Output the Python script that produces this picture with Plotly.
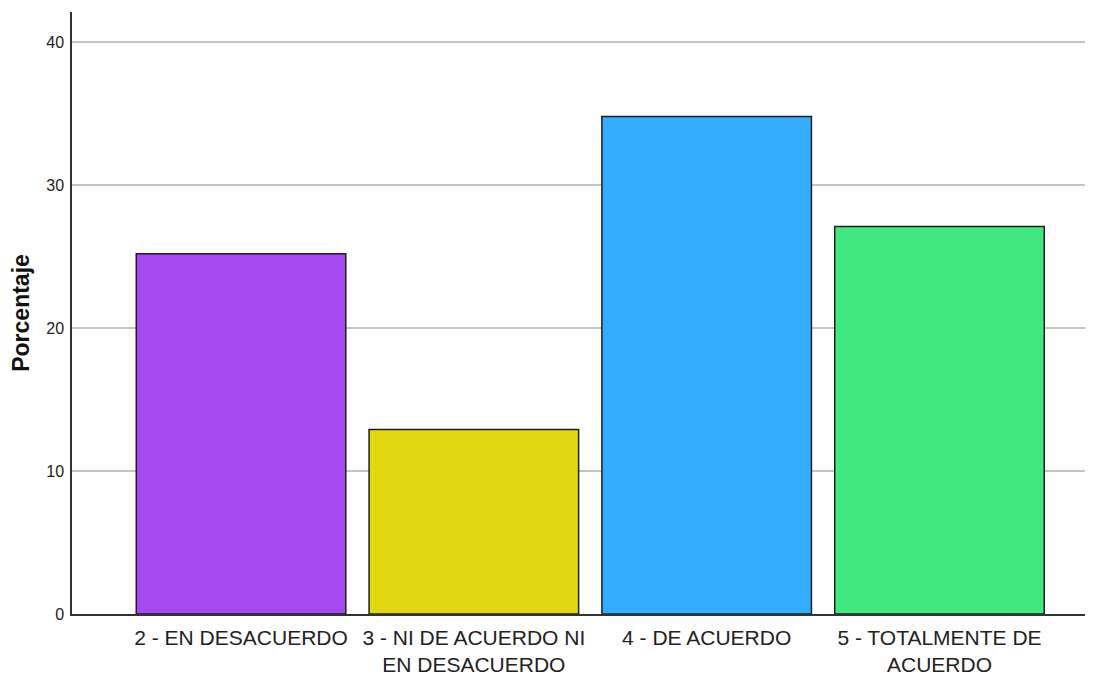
import plotly.graph_objects as go

categories = ["2 - EN DESACUERDO", "3 - NI DE ACUERDO NI<br>EN DESACUERDO", "4 - DE ACUERDO", "5 - TOTALMENTE DE<br>ACUERDO"]
values = [25.2, 12.9, 34.8, 27.1]
colors = ["#A749F2", "#E2D810", "#33ADFF", "#42E97F"]
y_ticks = [0, 10, 20, 30, 40]

fig = go.Figure()
fig.add_trace(go.Bar(
    x=list(range(len(categories))),
    y=values,
    width=0.9,
    marker=dict(color=colors, line=dict(color="#1e1e1e", width=1.5)),
    hoverinfo="y",
))

FONT = "Liberation Sans, Arial, sans-serif"
fig.update_layout(
    width=1097, height=682,
    margin=dict(l=72, r=12, t=12, b=68),
    paper_bgcolor="white", plot_bgcolor="white",
    showlegend=False,
    font=dict(family=FONT, color="#222222"),
    xaxis=dict(
        range=[-0.726, 3.625],
        tickmode="array",
        tickvals=list(range(len(categories))),
        ticktext=categories,
        tickangle=0,
        automargin=False,
        tickfont=dict(size=21, family=FONT, color="#222222"),
        showgrid=False, zeroline=False,
        showline=True, linecolor="#333333", linewidth=1.5,
        ticks="", ticklabelstandoff=4,
    ),
    yaxis=dict(
        range=[0, 42.1],
        automargin=False,
        tickmode="array", tickvals=y_ticks, ticktext=[str(t) for t in y_ticks],
        tickfont=dict(size=16, family=FONT, color="#222222"),
        showgrid=True, gridcolor="#c4c4c4", gridwidth=1.5,
        zeroline=False,
        showline=True, linecolor="#333333", linewidth=1.5,
        ticks="", ticklabelstandoff=3,
        title=dict(text="<b>Porcentaje</b>", font=dict(size=23, family=FONT, color="#111111"), standoff=10),
    ),
)

fig.write_html("out.html", config={"displayModeBar": False},
               post_script="document.body.style.margin='0';document.body.style.overflow='hidden';")
